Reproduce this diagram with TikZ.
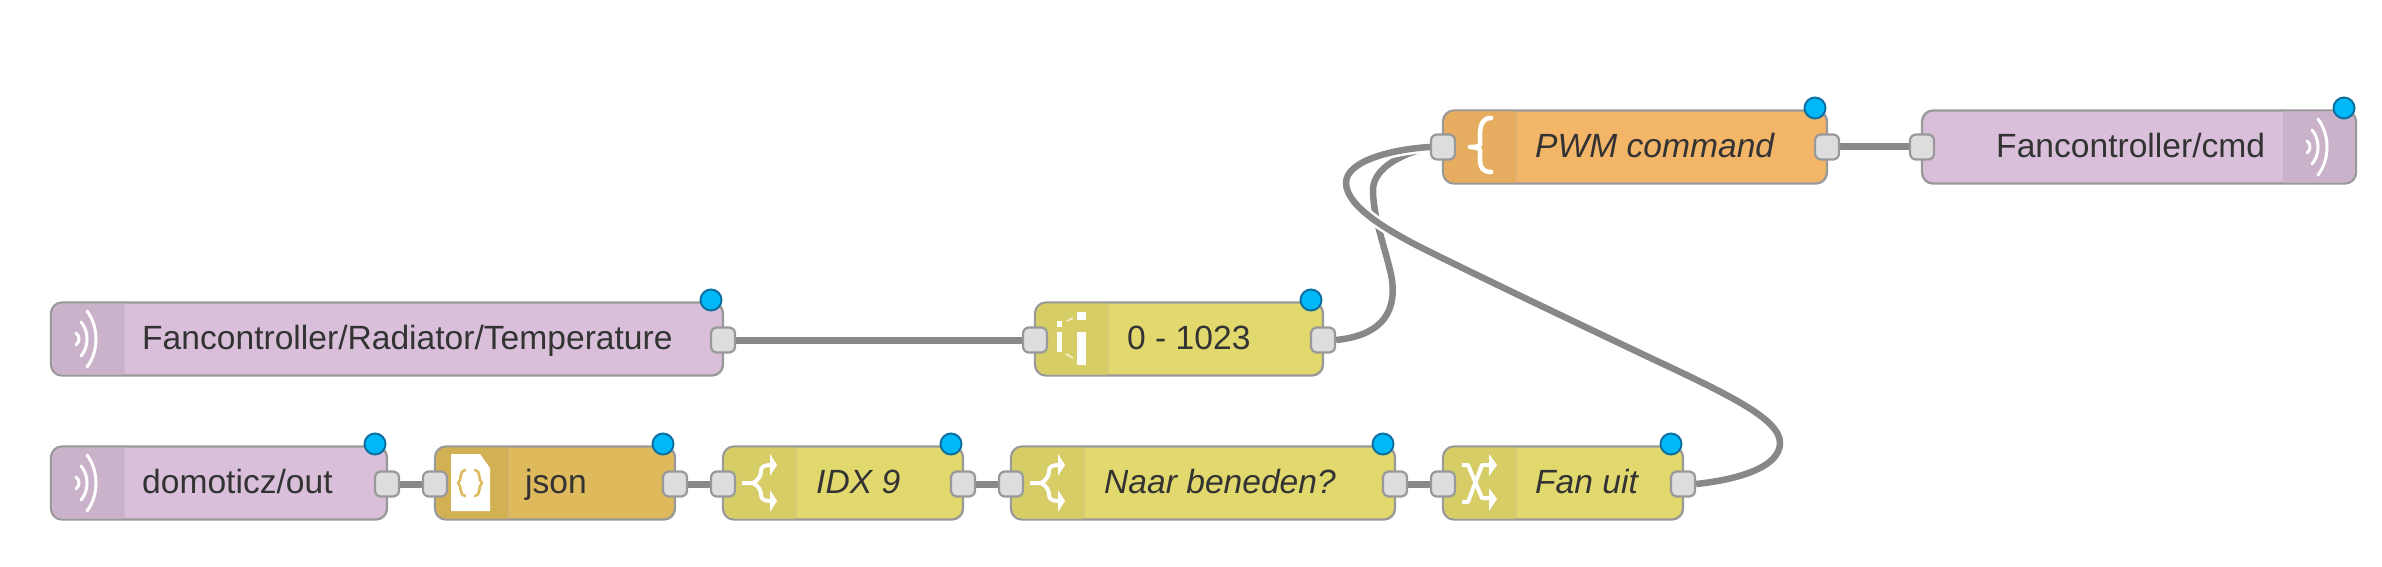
\documentclass[tikz,border=0pt]{standalone}
\usepackage{fontspec}
\setmainfont{Liberation Sans}
\pgfdeclarelayer{wires}
\pgfsetlayers{wires,main}
\definecolor{mqtt}{HTML}{D9BFD9}
\definecolor{mqttstrip}{HTML}{CBB2CB}
\definecolor{yell}{HTML}{E2D96E}
\definecolor{yellstrip}{HTML}{D6CD66}
\definecolor{oran}{HTML}{F3B567}
\definecolor{oranstrip}{HTML}{E6AD61}
\definecolor{gold}{HTML}{DEBA5C}
\definecolor{goldstrip}{HTML}{D2B054}
\definecolor{edge}{HTML}{999999}
\definecolor{wirec}{HTML}{888888}
\definecolor{dotfill}{HTML}{00B8F8}
\definecolor{dotedge}{HTML}{0F6F9E}
\definecolor{portfill}{HTML}{DDDDDD}
\tikzset{
  x=1pt,y=-1pt,
  flowbox/.style={draw=edge,line width=2.3pt,rounded corners=11pt,inner sep=0pt,minimum height=73pt},
  portbox/.style={draw=edge,fill=portfill,line width=2.2pt,rounded corners=6pt,inner sep=0pt,minimum width=24pt,minimum height=25pt},
  dotmark/.style={circle,draw=dotedge,fill=dotfill,line width=2pt,inner sep=0pt,minimum size=21pt},
  label/.style={anchor=base west,inner sep=0pt,text=black!80,font=\fontsize{33.6}{40}\selectfont},
  labeli/.style={label,font=\fontsize{33.6}{40}\selectfont\itshape},
  wire/.style={draw=wirec,line width=6.5pt},
  straightwire/.style={draw=wirec,line width=7pt},
  casedwire/.style={draw=white,double=wirec,double distance=6.5pt,line width=2.5pt},
  icon/.style={draw=white,line width=3pt,line cap=round,line join=round},
  thickicon/.style={draw=white,line width=4pt,line cap=butt,line join=round},
}
% name, x1, x2, yc, fill, strip colour
\newcommand{\flowL}[6]{%
  \node[flowbox,fill=#5,minimum width=#3pt-#2pt] (#1) at ({(#2+#3)/2},#4) {};
  \fill[#6,rounded corners=10pt] ({#2+73},{#4-35.5}) -- ({#2+1.3},{#4-35.5}) -- ({#2+1.3},{#4+35.5}) [sharp corners] -- ({#2+73},{#4+35.5}) -- cycle;
  \draw[black!30,opacity=.35,line width=1pt] ({#2+73},{#4-35.5}) -- ({#2+73},{#4+35.5});
}
\newcommand{\flowR}[6]{%
  \node[flowbox,fill=#5,minimum width=#3pt-#2pt] (#1) at ({(#2+#3)/2},#4) {};
  \fill[#6,rounded corners=10pt] ({#3-73},{#4-35.5}) -- ({#3-1.3},{#4-35.5}) -- ({#3-1.3},{#4+35.5}) [sharp corners] -- ({#3-73},{#4+35.5}) -- cycle;
  \draw[black!30,opacity=.35,line width=1pt] ({#3-73},{#4-35.5}) -- ({#3-73},{#4+35.5});
}
\newcommand{\waves}[2]{%
  \draw[icon] ({#1-1},{#2-28}) .. controls ({#1+11},{#2-12}) and ({#1+11},{#2+12}) .. ({#1-1},{#2+28});
  \draw[icon] ({#1-7},{#2-17}) .. controls ({#1+1},{#2-8}) and ({#1+1},{#2+8}) .. ({#1-7},{#2+17});
  \draw[icon] ({#1-12},{#2-6}) .. controls ({#1-8},{#2-3}) and ({#1-8},{#2+3}) .. ({#1-12},{#2+6});
}
% x1 of node, y centre
\newcommand{\forkicon}[2]{%
  \draw[thickicon] ({#1+19},#2) -- ({#1+30},#2) .. controls ({#1+36},{#2-3}) and ({#1+38},{#2-8}) .. ({#1+38},{#2-12}) .. controls ({#1+38},{#2-16}) and ({#1+41},{#2-18}) .. ({#1+48},{#2-18});
  \draw[thickicon] ({#1+30},#2) .. controls ({#1+36},{#2+3}) and ({#1+38},{#2+8}) .. ({#1+38},{#2+12}) .. controls ({#1+38},{#2+16}) and ({#1+41},{#2+18}) .. ({#1+48},{#2+18});
  \fill[white] ({#1+54},{#2-18}) -- ({#1+47},{#2-29}) -- ({#1+47},{#2-7}) -- cycle;
  \fill[white] ({#1+54},{#2+18}) -- ({#1+47},{#2+7}) -- ({#1+47},{#2+29}) -- cycle;
}
\begin{document}
\begin{tikzpicture}
\useasboundingbox (0,0) rectangle (2382,567);
\begin{pgfonlayer}{wires}
\fill[white] (0,0) rectangle (2382,567);
\end{pgfonlayer}

% node bodies
\flowL{radiator}{51}{723}{339}{mqtt}{mqttstrip}
\flowL{domoticz}{51}{387}{483}{mqtt}{mqttstrip}
\flowL{json}{435}{675}{483}{gold}{goldstrip}
\flowL{idx}{723}{963}{483}{yell}{yellstrip}
\flowL{naar}{1011}{1395}{483}{yell}{yellstrip}
\flowL{fan}{1443}{1683}{483}{yell}{yellstrip}
\flowL{range}{1035}{1323}{339}{yell}{yellstrip}
\flowL{pwm}{1443}{1827}{147}{oran}{oranstrip}
\flowR{cmd}{1922}{2356}{147}{mqtt}{mqttstrip}

% icons
\waves{88}{339}
\waves{88}{483}
\waves{2319}{147}
% json document
\fill[white] (451,454) -- (480,454) -- (490,468) -- (490,511) -- (451,511) -- cycle;
\draw[draw=gold,line width=2.6pt,line join=round,line cap=round] (465,470) .. controls (459,470) and (462,481) .. (458,483) .. controls (462,485) and (459,496) .. (465,496);
\draw[draw=gold,line width=2.6pt,line join=round,line cap=round] (475,470) .. controls (481,470) and (478,481) .. (482,483) .. controls (478,485) and (481,496) .. (475,496);
% switch icons
\forkicon{723}{483}
\forkicon{1011}{483}
% change icon
\draw[thickicon] (1462,465) -- (1468,465) -- (1482,498) -- (1491,498);
\draw[thickicon] (1462,502) -- (1468,502) -- (1482,465) -- (1491,465);
\fill[white] (1497,465) -- (1489,454) -- (1489,476) -- cycle;
\fill[white] (1497,499) -- (1489,488) -- (1489,511) -- cycle;
% range icon
\fill[white] (1077,312) rectangle (1086,320);
\fill[white] (1077,332) rectangle (1086,365);
\fill[white] (1057,321) rectangle (1062,327);
\fill[white] (1057,332) rectangle (1062,352);
\draw[white,opacity=.7,line width=1.6pt] (1067,321) -- (1073,318);
\draw[white,opacity=.7,line width=1.6pt] (1066,354) -- (1073,358);
% function icon
\draw[icon,line width=4.6pt] (1491,118) .. controls (1476,118) and (1481,140) .. (1480,145) .. controls (1479,147) and (1474,147) .. (1470,147) .. controls (1474,147) and (1479,148) .. (1480,150) .. controls (1481,156) and (1476,172) .. (1491,172);

% ports
\node[portbox] (radiatorOut) at (723,340) {};
\node[portbox] (domoticzOut) at (387,484) {};
\node[portbox] (jsonIn) at (435,484) {};
\node[portbox] (jsonOut) at (675,484) {};
\node[portbox] (idxIn) at (723,484) {};
\node[portbox] (idxOut) at (963,484) {};
\node[portbox] (naarIn) at (1011,484) {};
\node[portbox] (naarOut) at (1395,484) {};
\node[portbox] (fanIn) at (1443,484) {};
\node[portbox] (fanOut) at (1683,484) {};
\node[portbox] (rangeIn) at (1035,340) {};
\node[portbox] (rangeOut) at (1323,340) {};
\node[portbox] (pwmIn) at (1443,147) {};
\node[portbox] (pwmOut) at (1827,147) {};
\node[portbox] (cmdIn) at (1922,147) {};

% status dots
\node[dotmark] (dotA) at (711,300) {};
\node[dotmark] (dotB) at (375,444) {};
\node[dotmark] (dotC) at (663,444) {};
\node[dotmark] (dotD) at (951,444) {};
\node[dotmark] (dotE) at (1383,444) {};
\node[dotmark] (dotF) at (1671,444) {};
\node[dotmark] (dotG) at (1311,300) {};
\node[dotmark] (dotH) at (1815,108) {};
\node[dotmark] (dotI) at (2344,108) {};

% labels
\node[label] (t1) at (142,349) {Fancontroller/Radiator/Temperature};
\node[label] (t2) at (142,493) {domoticz/out};
\node[label] (t3) at (525,493) {json};
\node[labeli] (t4) at (816,493) {IDX 9};
\node[labeli] (t5) at (1104,493) {Naar beneden?};
\node[labeli] (t6) at (1535,493) {Fan uit};
\node[label] (t7) at (1127,349) {0 - 1023};
\node[labeli] (t8) at (1535,157.5) {PWM command};
\node[label] (t9) at (1996,157.5) {Fancontroller/cmd};

% wires
\begin{pgfonlayer}{wires}
\draw[straightwire] (radiatorOut) -- (rangeIn);
\draw[straightwire] (domoticzOut) -- (jsonIn);
\draw[straightwire] (jsonOut) -- (idxIn);
\draw[straightwire] (idxOut) -- (naarIn);
\draw[straightwire] (naarOut) -- (fanIn);
\draw[straightwire] (pwmOut) -- (cmdIn);
\draw[wire] (rangeOut.east) .. controls (1375,336) and (1397,318) .. (1392,280) .. controls (1388,255) and (1373,220) .. (1373,190) .. controls (1373,172) and (1393,156) .. (pwmIn.west);
\draw[casedwire] (fanOut.east) .. controls (1735,480) and (1780,468) .. (1780,443) .. controls (1780,418) and (1725,393) .. (1640,353) .. controls (1560,315) and (1470,272) .. (1420,247) .. controls (1395,234) and (1346,208) .. (1346,183) .. controls (1346,160) and (1395,149) .. (pwmIn.west);
\end{pgfonlayer}
\end{tikzpicture}
\end{document}
